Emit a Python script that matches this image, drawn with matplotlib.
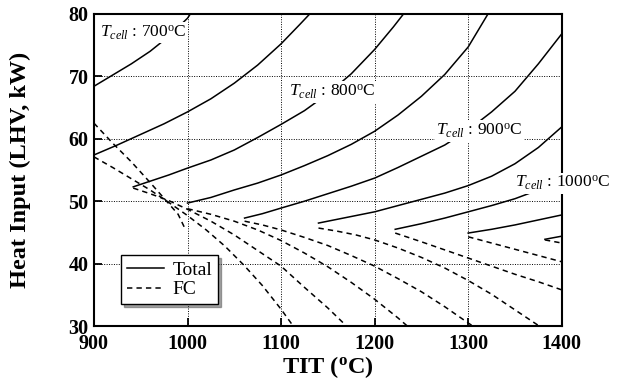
import matplotlib.pyplot as plt
from matplotlib.lines import Line2D

plt.rcParams['font.family'] = ['Liberation Serif', 'DejaVu Serif']
plt.rcParams['mathtext.fontset'] = 'custom'
plt.rcParams['mathtext.rm'] = 'Liberation Serif'
plt.rcParams['mathtext.it'] = 'Liberation Serif:italic'
plt.rcParams['mathtext.bf'] = 'Liberation Serif:bold'

# total heat input (solid curves), TIT in degC, heat in kW
total_tit = [
    [900, 920, 940, 960, 980, 1000, 1004],
    [900, 925, 950, 975, 1000, 1025, 1050, 1075, 1100, 1120, 1132],
    [942, 960, 980, 1000, 1025, 1050, 1075, 1100, 1125, 1150, 1175, 1200, 1220, 1232],
    [1000, 1025, 1050, 1075, 1100, 1125, 1150, 1175, 1200, 1225, 1250, 1275, 1300, 1322],
    [1061, 1080, 1100, 1125, 1150, 1175, 1200, 1225, 1250, 1275, 1300, 1325, 1350, 1375, 1400],
    [1140, 1160, 1180, 1200, 1225, 1250, 1275, 1300, 1325, 1350, 1375, 1400],
    [1222, 1250, 1275, 1300, 1325, 1350, 1375, 1400],
    [1300, 1325, 1350, 1375, 1400],
    [1382, 1400],
]
total_q = [
    [68.4, 70.2, 72.0, 74.0, 76.4, 79.3, 80.2],
    [57.4, 59.0, 60.7, 62.4, 64.3, 66.4, 68.9, 71.8, 75.2, 78.3, 80.2],
    [52.3, 53.2, 54.2, 55.3, 56.6, 58.2, 60.2, 62.3, 64.5, 67.2, 70.4, 74.3, 77.9, 80.2],
    [49.7, 50.6, 51.8, 52.9, 54.2, 55.7, 57.3, 59.1, 61.2, 63.8, 66.8, 70.3, 74.7, 80.2],
    [47.3, 48.0, 48.9, 50.0, 51.2, 52.4, 53.7, 55.4, 57.2, 59.0, 61.4, 64.3, 67.6, 72.0, 76.8],
    [46.5, 47.1, 47.7, 48.3, 49.3, 50.3, 51.3, 52.5, 54.0, 56.0, 58.6, 61.9],
    [45.5, 46.4, 47.3, 48.3, 49.3, 50.4, 51.8, 53.4],
    [44.9, 45.5, 46.2, 47.0, 47.8],
    [43.9, 44.4],
]

# fuel cell heat input (dashed curves)
fc_tit = [
    [900, 920, 940, 960, 980, 990, 998],
    [900, 920, 940, 960, 980, 1000, 1020, 1040, 1060, 1080, 1100, 1113],
    [942, 960, 980, 1000, 1025, 1050, 1075, 1100, 1125, 1150, 1170],
    [1000, 1025, 1050, 1075, 1100, 1125, 1150, 1175, 1200, 1225, 1235],
    [1061, 1080, 1100, 1125, 1150, 1175, 1200, 1225, 1250, 1275, 1300, 1305],
    [1140, 1160, 1180, 1200, 1225, 1250, 1275, 1300, 1325, 1350, 1376],
    [1222, 1250, 1275, 1300, 1325, 1350, 1375, 1400],
    [1300, 1325, 1350, 1375, 1400],
    [1382, 1400],
]
fc_q = [
    [62.5, 59.3, 56.3, 53.0, 49.6, 47.9, 45.4],
    [57.1, 55.4, 53.6, 51.8, 49.8, 47.7, 45.4, 42.8, 39.8, 36.5, 32.7, 30.0],
    [52.1, 51.2, 50.1, 48.7, 46.8, 44.6, 42.1, 39.6, 36.2, 32.9, 30.0],
    [48.8, 47.9, 46.8, 45.4, 43.7, 41.7, 39.5, 37.0, 34.3, 31.3, 30.0],
    [46.8, 46.2, 45.4, 44.2, 42.9, 41.3, 39.6, 37.6, 35.5, 33.1, 30.5, 30.0],
    [45.7, 45.2, 44.6, 43.8, 42.5, 41.0, 39.3, 37.3, 35.1, 32.6, 30.0],
    [44.9, 43.5, 42.2, 40.9, 39.6, 38.3, 37.1, 35.8],
    [44.3, 43.3, 42.3, 41.3, 40.3],
    [43.8, 43.3],
]

cell_temps = [700, 800, 900, 1000]
label_xy = [(906, 77.0), (1109, 67.5), (1266, 61.25), (1350, 52.9)]

fig = plt.figure(figsize=(6.18, 3.85), dpi=100)
ax = fig.add_axes([0.152, 0.153, 0.757, 0.811])

for t, q in zip(total_tit, total_q):
    ax.plot(t, q, color='black', lw=1.1)
for t, q in zip(fc_tit, fc_q):
    ax.plot(t, q, color='black', lw=1.1, dashes=(3.5, 2.7))

for tc, (x, y) in zip(cell_temps, label_xy):
    ax.text(x, y, r'$T_{cell}$ : ' + str(tc) + r'$^{\rm o}$C', fontsize=12.5,
            ha='left', va='center', clip_on=False, zorder=5,
            bbox=dict(facecolor='white', edgecolor='none', pad=1.0))

ax.set_xlim(900, 1400)
ax.set_ylim(30, 80)
ax.set_xticks([900, 1000, 1100, 1200, 1300, 1400])
ax.set_yticks([30, 40, 50, 60, 70, 80])
ax.grid(True, color='black', linestyle=(0, (1, 1.5)), linewidth=0.7)
ax.tick_params(direction='in', length=6, width=1.3, labelsize=14.5)
ax.tick_params(axis='x', pad=6)
ax.tick_params(axis='y', pad=4)
for lab in ax.get_xticklabels() + ax.get_yticklabels():
    lab.set_fontweight('bold')
for s in ax.spines.values():
    s.set_linewidth(1.5)

ax.set_xlabel(r'TIT ($^{\mathbf{o}}$C)', fontsize=17.5, fontweight='bold', labelpad=0)
ax.set_ylabel('Heat Input (LHV, kW)', fontsize=17.5, fontweight='bold', labelpad=27)

handles = [Line2D([], [], color='black', lw=1.1),
           Line2D([], [], color='black', lw=1.1, dashes=(3.5, 2.7))]
leg = ax.legend(handles, ['Total', 'FC'], loc='lower left', bbox_to_anchor=(0.058, 0.07),
                borderaxespad=0, fancybox=False, shadow=True, fontsize=14,
                handlelength=1.9, handletextpad=0.45, borderpad=0.3, labelspacing=0.1,
                framealpha=1)
leg.get_frame().set_edgecolor('black')
leg.get_frame().set_linewidth(1.0)

fig.savefig('out.png', dpi=100)
